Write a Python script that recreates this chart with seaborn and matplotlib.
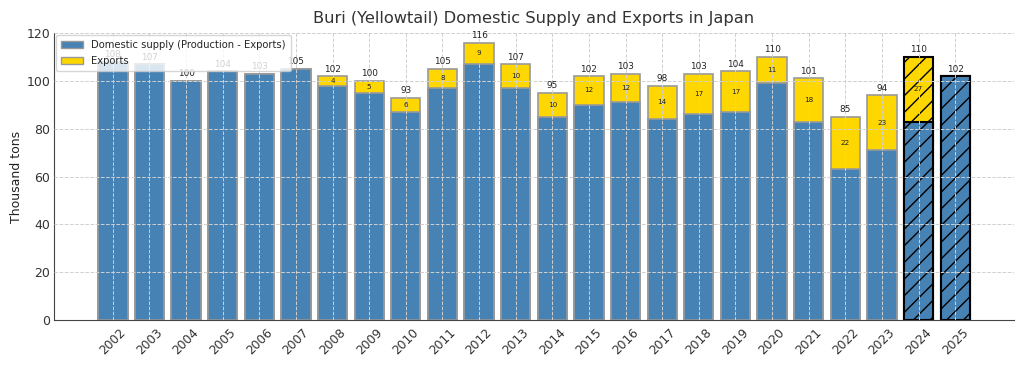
import matplotlib
matplotlib.use("Agg")
import matplotlib.pyplot as plt
import seaborn as sns
import pandas as pd
from matplotlib.patches import Patch

years = ["2002", "2003", "2004", "2005", "2006", "2007", "2008", "2009", "2010", "2011", "2012", "2013",
         "2014", "2015", "2016", "2017", "2018", "2019", "2020", "2021", "2022", "2023", "2024", "2025"]
totals = [108, 107, 100, 104, 103, 105, 102, 100, 93, 105, 116, 107,
          95, 102, 103, 98, 103, 104, 110, 101, 85, 94, 110, 102]
exports = [0, 0, 0, 0, 0, 0, 4, 5, 6, 8, 9, 10,
           10, 12, 12, 14, 17, 17, 11, 18, 22, 23, 27, 0]
forecast_years = ["2024", "2025"]

domestic = [t - e for t, e in zip(totals, exports)]
df = pd.DataFrame({"year": years, "total": totals, "exports": exports, "domestic": domestic})

sns.set_style("whitegrid", {"grid.linestyle": "--", "grid.color": "#cccccc",
                            "axes.edgecolor": "#333333"})
plt.rcParams["font.family"] = ["DejaVu Sans"]

fig, ax = plt.subplots(figsize=(10.24, 3.66), dpi=100)
blue = "#4682B4"
gold = "#FFD700"

sns.barplot(data=df, x="year", y="total", order=years, color=gold, width=0.8,
            edgecolor="#999999", linewidth=1.2, saturation=1, ax=ax)
n = len(years)
sns.barplot(data=df, x="year", y="domestic", order=years, color=blue, width=0.8,
            edgecolor="#999999", linewidth=1.2, saturation=1, ax=ax)

patches = ax.patches
for i, y in enumerate(years):
    if y in forecast_years:
        for p in (patches[i], patches[n + i]):
            p.set_hatch("//")
            p.set_edgecolor("black")
            p.set_linewidth(1.5)

for i, (t, e, d) in enumerate(zip(totals, exports, domestic)):
    ax.text(i, t + 1.0, f"{t}", ha="center", va="bottom", fontsize=6.4, color="#222222")
    if e > 0:
        ax.text(i, d + e / 2, f"{e}", ha="center", va="center", fontsize=5.2, color="#222222")

ax.set_axisbelow(False)
ax.grid(True, linestyle="--", color="#d0d0d0", linewidth=0.7)
ax.set_ylim(0, 120)
ax.set_yticks(range(0, 121, 20))
ax.set_xlim(-1.6, n - 1 + 1.6)
ax.set_xlabel("")
ax.set_ylabel("Thousand tons", fontsize=9, color="#222222", labelpad=2)
ax.set_title("Buri (Yellowtail) Domestic Supply and Exports in Japan", fontsize=11.7, color="#333333", pad=7)
ax.tick_params(axis="x", rotation=45, labelsize=8.8, colors="#333333", pad=4, length=0)
ax.tick_params(axis="y", labelsize=9, colors="#333333", pad=3, length=0)
for s in ["top", "right"]:
    ax.spines[s].set_visible(False)
for s in ["left", "bottom"]:
    ax.spines[s].set_color("#444444")

handles = [Patch(facecolor=blue, edgecolor="#999999", label="Domestic supply (Production - Exports)"),
           Patch(facecolor=gold, edgecolor="#999999", label="Exports")]
ax.legend(handles=handles, loc="upper left", fontsize=7.2, frameon=True, framealpha=0.8,
          borderaxespad=0.2, handlelength=2.2, labelspacing=0.6, borderpad=0.5)

fig.subplots_adjust(left=0.053, right=0.99, top=0.91, bottom=0.125)
fig.savefig("out.png", dpi=100)
